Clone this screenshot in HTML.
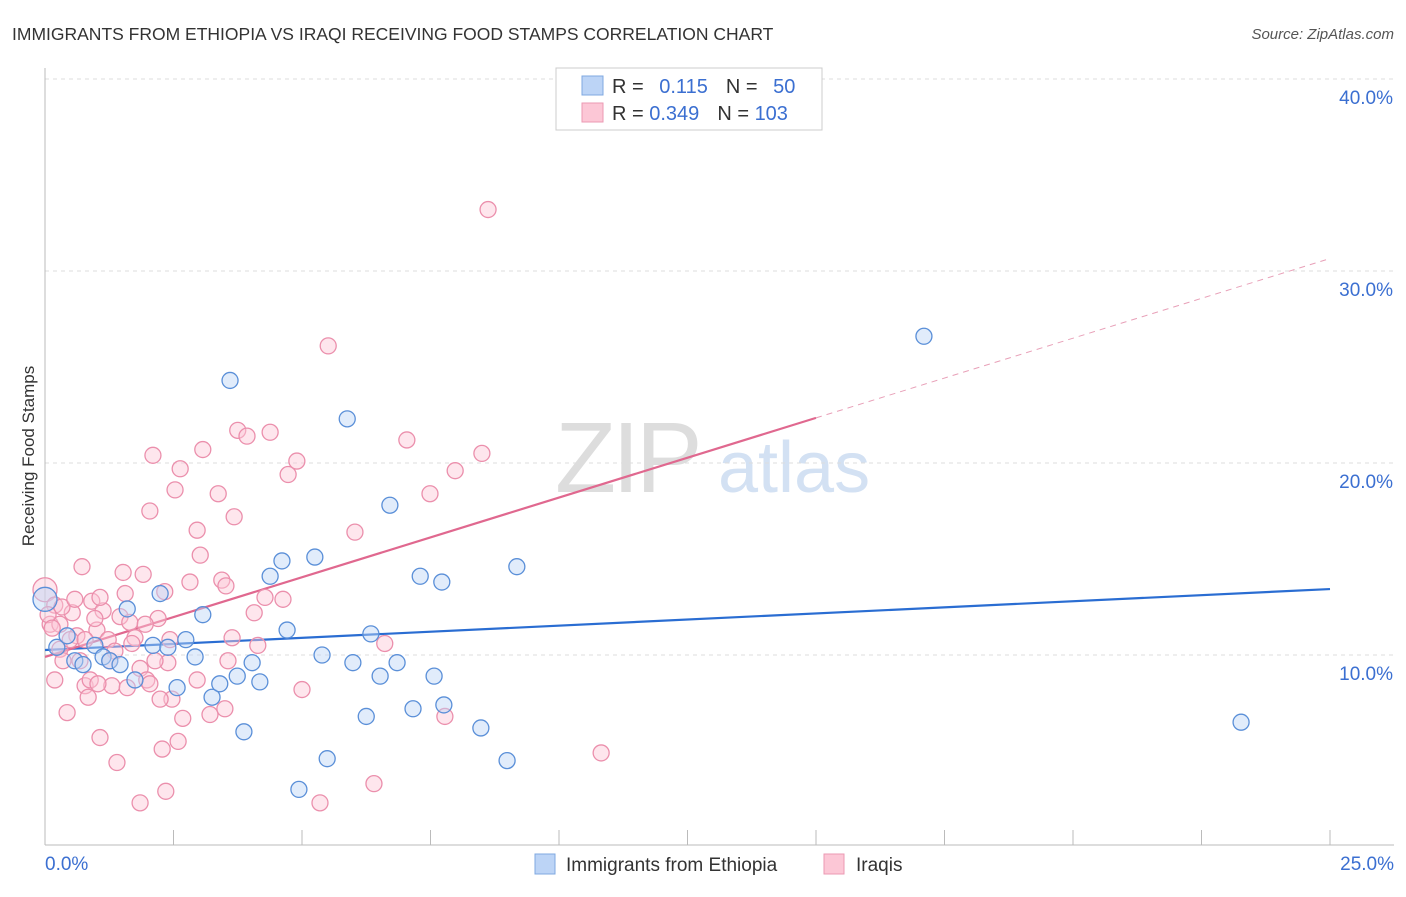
<!DOCTYPE html>
<html><head><meta charset="utf-8"><style>
body{margin:0;background:#fff;font-family:"Liberation Sans",sans-serif}
svg text{font-family:"Liberation Sans",sans-serif}
</style></head><body>
<svg id="c" width="1406" height="892">
<text x="12" y="40" font-size="17.5" fill="#333">IMMIGRANTS FROM ETHIOPIA VS IRAQI RECEIVING FOOD STAMPS CORRELATION CHART</text>
<text x="1394" y="39" font-size="15" fill="#555" text-anchor="end" font-style="italic">Source: ZipAtlas.com</text>
<text x="34" y="456" font-size="17" fill="#333" text-anchor="middle" transform="rotate(-90 34 456)">Receiving Food Stamps</text>
<g><text x="555" y="492" font-size="100" fill="#ddd" font-family="Liberation Serif" letter-spacing="-4">ZIP</text><text x="718" y="492" font-size="72" fill="#d3e1f3">atlas</text></g>
<g id="grid"></g><g id="lines"></g><g id="pts"></g>
<g>
<rect x="556" y="68" width="266" height="62" fill="#fff" stroke="#ccc"/>
<rect x="582" y="76" width="21" height="19" fill="#bcd4f6" stroke="#7fa8e0"/>
<rect x="582" y="103" width="21" height="19" fill="#fcc7d6" stroke="#eb9ab3"/>
<text x="612" y="93" font-size="20" fill="#333">R = <tspan fill="#3b6fd1" dx="10">0.115</tspan><tspan fill="#333" dx="18">N = </tspan><tspan fill="#3b6fd1" dx="10">50</tspan></text>
<text x="612" y="120" font-size="20" fill="#333">R = <tspan fill="#3b6fd1">0.349</tspan><tspan fill="#333" dx="18">N = </tspan><tspan fill="#3b6fd1">103</tspan></text>
</g>
<g>
<rect x="535" y="854" width="20" height="20" fill="#bcd4f6" stroke="#7fa8e0"/>
<text x="566" y="871" font-size="19" fill="#333">Immigrants from Ethiopia</text>
<rect x="824" y="854" width="20" height="20" fill="#fcc7d6" stroke="#eb9ab3"/>
<text x="856" y="871" font-size="19" fill="#333">Iraqis</text>
</g>
</svg>
<script>
const yTicks=[10,20,30,40];
const yTickLabels=["10.0%","20.0%","30.0%","40.0%"];
const xTickCount=10;
const xLabels=["0.0%","25.0%"];
const blueX=[0.0,0.23,0.43,0.58,0.74,0.97,1.13,1.26,1.46,1.60,1.75,2.10,2.24,2.39,2.57,2.74,2.92,3.07,3.25,3.40,3.60,3.74,3.87,4.03,4.18,4.38,4.61,4.71,4.94,5.25,5.39,5.49,5.88,5.99,6.25,6.34,6.52,6.71,6.85,7.16,7.30,7.57,7.72,7.76,8.48,8.99,9.18,17.10,23.27];
const blueY=[12.9,10.4,11.0,9.7,9.5,10.5,9.9,9.7,9.5,12.4,8.7,10.5,13.2,10.4,8.3,10.8,9.9,12.1,7.8,8.5,24.3,8.9,6.0,9.6,8.6,14.1,14.9,11.3,3.0,15.1,10.0,4.6,22.3,9.6,6.8,11.1,8.9,17.8,9.6,7.2,14.1,8.9,13.8,7.4,6.2,4.5,14.6,26.6,6.5];
const pinkX=[0.0,0.10,0.19,0.29,0.35,0.43,0.53,0.62,0.72,0.78,0.84,0.91,1.01,1.07,1.13,1.23,1.30,1.40,1.46,1.52,1.60,1.65,1.75,1.85,1.91,1.98,2.04,2.10,2.20,2.28,2.35,2.39,2.47,2.53,2.59,2.63,2.68,2.82,2.96,3.02,3.07,3.21,3.37,3.44,3.50,3.56,3.64,3.68,3.75,3.93,4.07,4.28,4.38,4.63,4.73,4.90,5.00,5.35,5.51,6.03,6.40,6.61,7.04,7.49,7.78,7.98,8.50,8.62,10.82,1.85,1.07,1.36,1.56,1.69,0.29,0.49,0.19,0.88,1.03,0.68,2.04,2.33,2.43,1.26,0.33,0.06,0.14,0.58,0.78,0.97,1.95,2.14,2.24,2.96,3.52,4.14];
const pinkY=[13.4,11.6,12.6,10.3,9.7,7.0,12.2,11.0,14.6,8.4,7.8,12.8,11.3,5.7,12.3,10.8,8.4,4.4,12.0,14.3,8.3,11.7,10.9,9.3,14.2,8.7,17.5,20.4,11.9,5.1,2.9,9.6,7.7,18.6,5.5,19.7,6.7,13.8,16.5,15.2,20.7,6.9,18.4,13.9,7.2,9.7,10.9,17.2,21.7,21.4,12.2,13.0,21.6,12.9,19.4,20.1,8.2,2.3,26.1,16.4,3.3,10.6,21.2,18.4,6.8,19.6,20.5,33.2,4.9,2.3,13.0,10.2,13.2,10.6,11.6,10.8,8.7,8.7,8.5,9.7,8.5,13.3,10.8,9.7,12.5,12.1,11.4,12.9,10.8,11.9,11.6,9.7,7.7,8.7,13.6,10.5];
const blueFit=[10.26,0.127];
const pinkFit=[9.9,0.83];
const NS="http://www.w3.org/2000/svg";
const X=v=>45+v/25*1285, Y=v=>847-v*19.2;
function mk(t,a,p){const e=document.createElementNS(NS,t);for(const k in a)e.setAttribute(k,a[k]);p.appendChild(e);return e;}
const grid=document.getElementById('grid');
yTicks.forEach((t,i)=>{
 const l=mk('line',{x1:45,x2:1394,y1:Y(t),y2:Y(t),stroke:'#ddd','stroke-dasharray':'4,4'},grid);
 
 
 const tx=mk('text',{x:1393,y:Y(t)+25,'font-size':19,fill:'#3b6fd1','text-anchor':'end'},grid);tx.textContent=yTickLabels[i];
 
 
});
const ax=mk('line',{x1:45,x2:1394,y1:845,y2:845,stroke:'#bbb'},grid);


const ay=mk('line',{x1:45,x2:45,y1:68,y2:845,stroke:'#bbb'},grid);


for(let i=0;i<=xTickCount;i++){const t=mk('line',{x1:X(i*2.5),x2:X(i*2.5),y1:830,y2:845,stroke:'#bbb'},grid);
 
 }
[[45,'start',xLabels[0]],[1394,'end',xLabels[1]]].forEach(a=>{const t=mk('text',{x:a[0],y:870,'font-size':19,fill:'#3b6fd1','text-anchor':a[1]},grid);t.textContent=a[2];
 
 });
const pts=document.getElementById('pts');
function dots(xs,ys,f,s,n){xs.forEach((x,i)=>{const c=mk('circle',{cx:X(x),cy:Y(ys[i]),r:i==0?12:8,fill:f,'fill-opacity':0.45,stroke:s,'stroke-width':1.3},pts);
 
 });}
dots(pinkX,pinkY,'#fcc7d6','#eb8fac','iraqi-point');
dots(blueX,blueY,'#bcd4f6','#5a8fd8','ethiopia-point');
const lines=document.getElementById('lines');
const bl=mk('line',{x1:X(0),y1:Y(blueFit[0]),x2:X(25),y2:Y(blueFit[0]+25*blueFit[1]),stroke:'#2a6dd2','stroke-width':2.2},lines);


const pl=mk('line',{x1:X(0),y1:Y(pinkFit[0]),x2:X(15),y2:Y(pinkFit[0]+15*pinkFit[1]),stroke:'#e0688f','stroke-width':2.2},lines);


const pd=mk('line',{x1:X(15),y1:Y(pinkFit[0]+15*pinkFit[1]),x2:X(25),y2:Y(pinkFit[0]+25*pinkFit[1]),stroke:'#e8a0b8','stroke-width':1,'stroke-dasharray':'6,5'},lines);


</script>
</body></html>
